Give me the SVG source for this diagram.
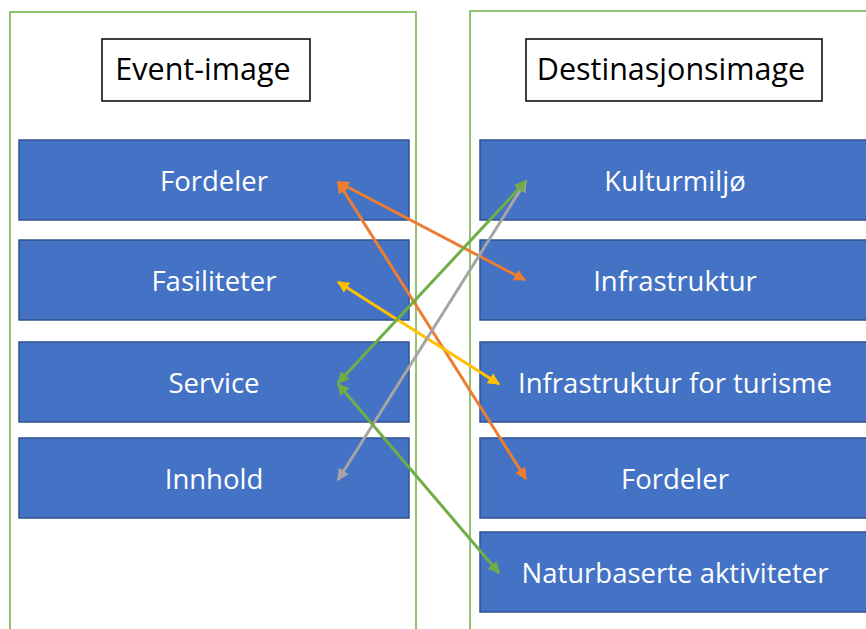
<svg xmlns="http://www.w3.org/2000/svg" width="866" height="629" viewBox="0 0 866 629">
<style>
.cont{fill:none;stroke:#70AD47;stroke-width:1.5}
.title{fill:#fff;stroke:#000;stroke-width:1.5}
.tt{font-family:"Open Sans","Noto Sans","Liberation Sans",sans-serif;font-size:30.5px;fill:#000;text-anchor:middle;dominant-baseline:central}
.box{fill:#4472C4;stroke:#2F528F;stroke-width:1.5}
.bt{font-family:"Open Sans","Noto Sans","Liberation Sans",sans-serif;font-size:27.5px;fill:#fff;text-anchor:middle;dominant-baseline:central}
.c{fill:none;stroke-width:3}
</style>
<defs>
<marker id="mo" viewBox="0 0 10 10" refX="9" refY="5" markerWidth="4" markerHeight="4" orient="auto-start-reverse" markerUnits="strokeWidth"><path d="M0,0L10,5L0,10z" fill="#ED7D31"/></marker>
<marker id="my" viewBox="0 0 10 10" refX="9" refY="5" markerWidth="4" markerHeight="4" orient="auto-start-reverse" markerUnits="strokeWidth"><path d="M0,0L10,5L0,10z" fill="#FFC000"/></marker>
<marker id="mg" viewBox="0 0 10 10" refX="9" refY="5" markerWidth="4" markerHeight="4" orient="auto-start-reverse" markerUnits="strokeWidth"><path d="M0,0L10,5L0,10z" fill="#70AD47"/></marker>
<marker id="ma" viewBox="0 0 10 10" refX="9" refY="5" markerWidth="4" markerHeight="4" orient="auto-start-reverse" markerUnits="strokeWidth"><path d="M0,0L10,5L0,10z" fill="#A5A5A5"/></marker>
</defs>
<rect width="866" height="629" fill="#fff"/>
<rect class="cont" x="10" y="12" width="406" height="640"/>
<rect class="cont" x="470" y="11" width="420" height="640"/>
<g id="event-image"><rect class="title" x="102" y="39" width="208" height="62"/><text class="tt" x="203" y="68">Event-image</text></g>
<g id="destinasjonsimage"><rect class="title" x="526" y="39" width="296" height="62"/><text class="tt" x="671" y="68">Destinasjonsimage</text></g>
<g id="l-fordeler"><rect class="box" x="19" y="140" width="390" height="80"/><text class="bt" x="214" y="180">Fordeler</text></g>
<g id="l-fasiliteter"><rect class="box" x="19" y="240" width="390" height="80"/><text class="bt" x="214" y="280">Fasiliteter</text></g>
<g id="l-service"><rect class="box" x="19" y="342" width="390" height="80"/><text class="bt" x="214" y="382">Service</text></g>
<g id="l-innhold"><rect class="box" x="19" y="438" width="390" height="80"/><text class="bt" x="214" y="478">Innhold</text></g>
<g id="r-kulturmiljo"><rect class="box" x="480" y="140" width="392" height="80"/><text class="bt" x="675" y="180">Kulturmiljø</text></g>
<g id="r-infrastruktur"><rect class="box" x="480" y="240" width="392" height="80"/><text class="bt" x="675" y="280">Infrastruktur</text></g>
<g id="r-infra-turisme"><rect class="box" x="480" y="342" width="392" height="80"/><text class="bt" x="675" y="382">Infrastruktur for turisme</text></g>
<g id="r-fordeler"><rect class="box" x="480" y="438" width="392" height="80"/><text class="bt" x="675" y="478">Fordeler</text></g>
<g id="r-naturbaserte"><rect class="box" x="480" y="532" width="392" height="80"/><text class="bt" x="675" y="572">Naturbaserte aktiviteter</text></g>
<g id="connectors">
<line class="c" x1="338" y1="182" x2="525" y2="280" stroke="#ED7D31" marker-start="url(#mo)" marker-end="url(#mo)"/>
<line class="c" x1="338" y1="182" x2="526" y2="479" stroke="#ED7D31" marker-start="url(#mo)" marker-end="url(#mo)"/>
<line class="c" x1="338" y1="282" x2="499" y2="384" stroke="#FFC000" marker-start="url(#my)" marker-end="url(#my)"/>
<line class="c" x1="338" y1="480" x2="526" y2="181" stroke="#A5A5A5" marker-start="url(#ma)" marker-end="url(#ma)"/>
<line class="c" x1="338" y1="383" x2="526" y2="181" stroke="#70AD47" marker-start="url(#mg)" marker-end="url(#mg)"/>
<line class="c" x1="338" y1="384" x2="499" y2="573" stroke="#70AD47" marker-start="url(#mg)" marker-end="url(#mg)"/>
</g>
</svg>
